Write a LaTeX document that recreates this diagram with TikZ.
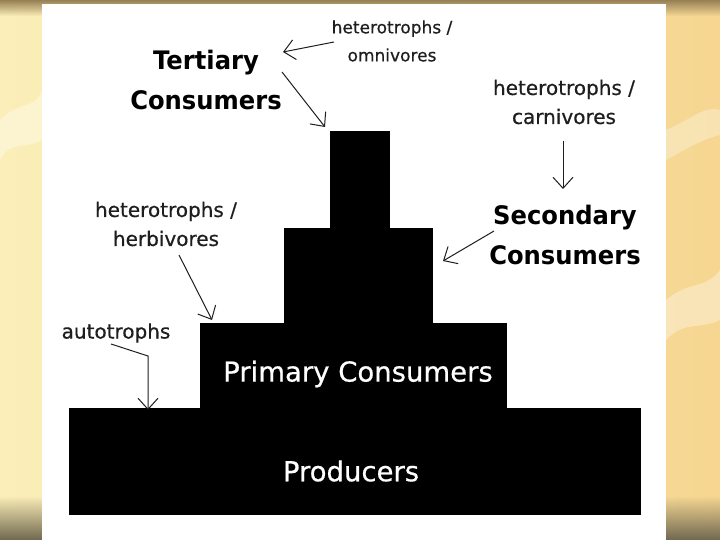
\documentclass[tikz,border=0pt]{standalone}
\usepackage{fontspec}
\setmainfont{DejaVu Sans}
\newfontfamily\heavyish[FakeBold=0.6]{DejaVu Sans}
\newfontfamily\boldlabel[FakeStretch=0.95]{DejaVu Sans Bold}
\usetikzlibrary{arrows.meta,fadings}
\definecolor{bgleft}{RGB}{251,238,184}
\definecolor{bgright}{RGB}{246,214,145}
\definecolor{bandtop}{RGB}{150,128,84}
\definecolor{bandbot}{RGB}{112,104,80}
\definecolor{ink}{RGB}{30,30,30}
\tikzset{
  block/.style={fill=black,draw=none},
  bigtxt/.style={font=\boldlabel\fontsize{25.5}{40}\selectfont,text=black,align=center,inner sep=0pt},
  smalltxt/.style={font=\heavyish\fontsize{20}{29}\selectfont,text=ink,align=center,inner sep=0pt},
  whitetxt/.style={font=\heavyish\fontsize{27.5}{30}\selectfont,text=white,inner sep=0pt},
  pointer/.style={draw=ink,line width=1pt,-{Straight Barb[length=11pt,width=20pt,line width=1pt]}}
}
\begin{document}
\begin{tikzpicture}[x=1pt,y=-1pt]
% background slide
\useasboundingbox (0,0) rectangle (720,540);
\shade[left color=bgleft,right color=bgright] (0,0) rectangle (720,540);
\fill[white,opacity=0.35] (0,120) .. controls (20,100) and (35,110) .. (42,90) -- (42,140) .. controls (25,150) and (10,140) .. (0,160) -- cycle;
\fill[white,opacity=0.35] (666,300) .. controls (690,280) and (705,290) .. (720,270) -- (720,320) .. controls (700,330) and (685,320) .. (666,340) -- cycle;
\fill[white,opacity=0.3] (666,130) .. controls (690,120) and (705,105) .. (720,110) -- (720,135) .. controls (700,140) and (685,150) .. (666,160) -- cycle;
\fill[bandtop,path fading=south] (0,0) rectangle (720,16);
\fill[bandbot,path fading=north] (0,496) rectangle (720,540);
% white panel
\fill[white] (42,4) rectangle (666,540);
% pyramid
\fill[block] (69,408) rectangle (641,515);
\fill[block] (200,323) rectangle (507,408);
\fill[block] (284,228) rectangle (433,323);
\fill[block] (330,131) rectangle (390,228);
\node[whitetxt] (prod) at (351,471) {Producers};
\node[whitetxt] (prim) at (358,374) {Primary Consumers};
% labels
\node[bigtxt] (tert) at (206,80) {Tertiary\\Consumers};
\node[bigtxt] (sec) at (565,235) {Secondary\\Consumers};
\node[smalltxt,font=\heavyish\fontsize{17}{28}\selectfont] (omni) at (392,41) {heterotrophs /\\omnivores};
\node[smalltxt] (carn) at (564,102) {heterotrophs /\\carnivores};
\node[smalltxt] (herb) at (166,224) {heterotrophs /\\herbivores};
\node[smalltxt] (auto) at (116,333) {autotrophs};
% connector end points
\coordinate (o1) at (334,42);  \coordinate (o2) at (283,52);
\coordinate (t1) at (282,72);  \coordinate (t2) at (325,127);
\coordinate (c1) at (563,141); \coordinate (c2) at (563,189);
\coordinate (s1) at (494,231); \coordinate (s2) at (443,261);
\coordinate (h1) at (179,255); \coordinate (h2) at (212,320);
\coordinate (a1) at (111,344); \coordinate (a2) at (148,356); \coordinate (a3) at (148,410);
\draw[pointer] (o1) -- (o2);
\draw[pointer] (t1) -- (t2);
\draw[pointer] (c1) -- (c2);
\draw[pointer] (s1) -- (s2);
\draw[pointer] (h1) -- (h2);
\draw[pointer] (a1) -- (a2) -- (a3);
\end{tikzpicture}
\end{document}
